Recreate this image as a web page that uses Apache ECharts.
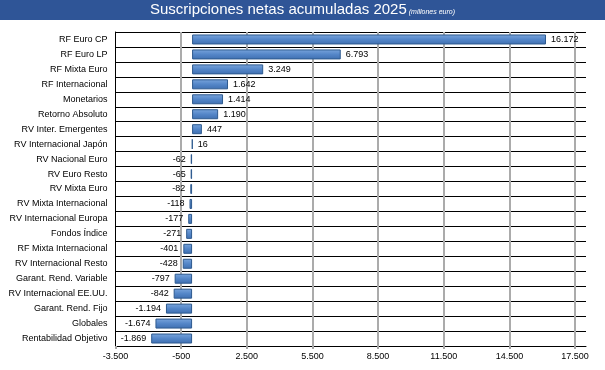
<!DOCTYPE html>
<html>
<head>
<meta charset="utf-8">
<script src="https://cdn.jsdelivr.net/npm/echarts@6/dist/echarts.min.js"></script>
<style>html,body{margin:0;padding:0;background:#fff}#c{width:605px;height:370px}</style>
</head>
<body>
<div id="c"></div>
<script>
const categories = ["RF Euro CP","RF Euro LP","RF Mixta Euro","RF Internacional","Monetarios","Retorno Absoluto","RV Inter. Emergentes","RV Internacional Japón","RV Nacional Euro","RV Euro Resto","RV Mixta Euro","RV Mixta Internacional","RV Internacional Europa","Fondos Índice","RF Mixta Internacional","RV Internacional Resto","Garant. Rend. Variable","RV Internacional EE.UU.","Garant. Rend. Fijo","Globales","Rentabilidad Objetivo"];
const values = [16172,6793,3249,1642,1414,1190,447,16,-62,-65,-82,-118,-177,-271,-401,-428,-797,-842,-1194,-1674,-1869];
const xMin = -3500, xMax = 18000, xInterval = 3000;

function fmt(v){
  const s = Math.abs(Math.round(v)).toString().replace(/\B(?=(\d{3})+(?!\d))/g, '.');
  return (v < 0 ? '-' : '') + s;
}
const FONT = 'Liberation Sans, Arial, sans-serif';
const chart = echarts.init(document.getElementById('c'));
chart.setOption({
  animation: false,
  graphic: [{type:'rect', shape:{x:0,y:0,width:605,height:20}, style:{fill:'#2F5597'}, z:0}],
  title: {
    text: '{a|Suscripciones netas acumuladas 2025}{b| (millones euro)}',
    left: 'center', top: 2, padding: 0,
    textStyle: {
      fontWeight: 'normal',
      rich: {
        a: {fontFamily: FONT, fontSize: 15, fontWeight: 'normal', color: '#fff', verticalAlign:'bottom'},
        b: {fontFamily: FONT, fontSize: 7, fontWeight: 'normal', fontStyle: 'italic', color: '#fff', verticalAlign:'bottom', padding:[0,0,1,0]}
      }
    }
  },
  grid: {left: 115.5, right: 19, top: 32, bottom: 24, containLabel: false},
  xAxis: {
    type: 'value', min: xMin, max: xMax, interval: xInterval,
    axisLine: {show: true, lineStyle: {color: '#000', width: 1}},
    axisTick: {show: true, length: 3, lineStyle: {color: '#A6A6A6', width: 2}},
    axisLabel: {fontFamily: FONT, fontSize: 9, color: '#000', margin: 6, formatter: fmt, showMaxLabel: false},
    splitLine: {show: true, showMinLine: false, showMaxLine: false, lineStyle: {color: '#ABABAB', width: 2}}
  },
  yAxis: {
    type: 'category', data: categories, inverse: true,
    axisLine: {show: true, onZero: false, lineStyle: {color: '#000', width: 1}},
    axisTick: {show: false},
    axisLabel: {fontFamily: FONT, fontSize: 9, color: '#000', margin: 8},
    splitLine: {show: true, lineStyle: {color: '#000', width: 1}}
  },
  series: [{
    type: 'bar', barWidth: 10,
    data: values.map(v => ({
      value: v,
      label: {position: v >= 0 ? 'right' : 'left'}
    })),
    itemStyle: {
      color: new echarts.graphic.LinearGradient(0,0,0,1,[
        {offset:0, color:'#7AA5DC'},{offset:0.5, color:'#5486C8'},{offset:1, color:'#3F6FB0'}
      ]),
      borderColor: '#2E5A8F', borderWidth: 1
    },
    label: {show: true, fontFamily: FONT, fontSize: 9, color: '#000', distance: 5,
      formatter: p => fmt(p.value)},
    z: 3
  }]
});
</script>
</body>
</html>
